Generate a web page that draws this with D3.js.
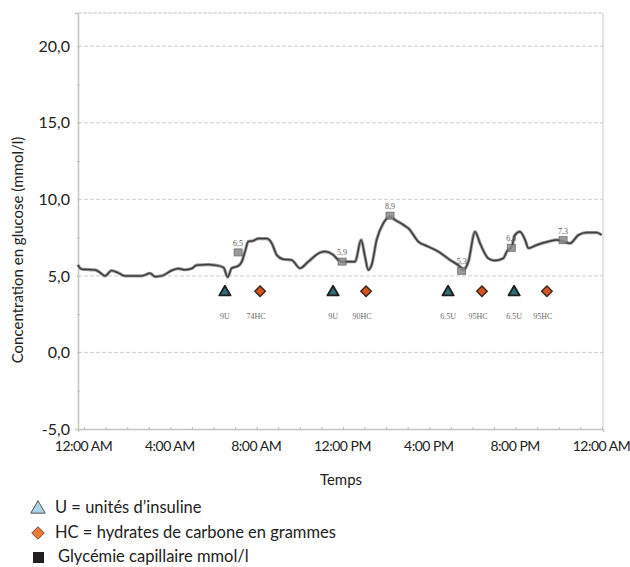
<!DOCTYPE html>
<html>
<head>
<meta charset="utf-8">
<script src="https://cdn.jsdelivr.net/npm/d3@7"></script>
<style>
  html, body { margin: 0; padding: 0; background: #fff; }
  svg { display: block; font-family: Lato, "Open Sans", sans-serif; }
</style>
</head>
<body>
<svg id="chart" width="630" height="567"></svg>
<script>
// Continuous glucose trace: hour of day and concentration (mmol/l)
const traceHours = [-0.29, -0.11, 0.51, 0.74, 0.97, 1.28, 1.58, 1.90, 2.67, 3.06, 3.29, 3.60, 4.06, 4.37, 4.68, 4.99, 5.22, 5.76,
  6.07, 6.46, 6.66, 6.84, 7.15, 7.31, 7.46, 7.61, 7.85, 8.08, 8.47, 8.70, 8.93, 9.24, 9.62, 10.01, 10.39, 10.94, 11.17, 11.55, 11.78,
  11.94, 12.56, 12.84, 13.02, 13.17, 13.33, 13.56, 13.87, 14.18, 14.41, 14.80, 15.03, 15.49, 15.95, 16.42, 16.96, 17.42, 17.58, 17.81,
  18.12, 18.35, 18.73, 19.04, 19.43, 19.59, 19.82, 19.97, 20.20, 20.44, 20.59, 20.98, 21.52, 21.90, 22.21, 22.52, 22.91, 23.29, 23.76, 23.99];
const traceValues = [5.72, 5.44, 5.39, 5.22, 5.00, 5.35, 5.20, 5.00, 5.00, 5.17, 4.95, 5.00, 5.35, 5.48, 5.40, 5.48, 5.70, 5.74,
  5.70, 5.56, 4.92, 5.50, 5.65, 5.93, 6.59, 7.24, 7.30, 7.44, 7.44, 7.13, 6.37, 6.09, 6.04, 5.50, 5.93, 6.52, 6.59, 6.37, 6.04,
  5.93, 5.93, 7.35, 6.26, 5.39, 5.72, 7.35, 8.44, 8.87, 8.66, 8.33, 8.11, 7.24, 6.91, 6.59, 6.04, 5.61, 5.39, 5.93,
  7.89, 7.13, 6.15, 6.00, 6.15, 6.59, 6.91, 7.67, 7.89, 7.35, 6.81, 7.02, 7.24, 7.35, 7.24, 7.13, 7.67, 7.83, 7.83, 7.67];

// Insulin doses and carbohydrate intakes
const insulinHours = [6.53, 11.54, 16.87, 19.93];
const insulinLabels = ["9U", "9U", "6.5U", "6.5U"];
const carbHours = [8.16, 13.07, 18.44, 21.45];
const carbLabels = ["74HC", "90HC", "95HC", "95HC"];

// Capillary glucose readings
const capHours = [7.14, 11.96, 14.18, 17.50, 19.80, 22.20];
const capValues = [6.5, 5.9, 8.9, 5.3, 6.8, 7.3];

// Axis ticks
const yTicks = [-5, 0, 5, 10, 15, 20];
const xTicks = [0, 4, 8, 12, 16, 20, 24];
const xTickLabels = ["12:00 AM", "4:00 AM", "8:00 AM", "12:00 PM", "4:00 PM", "8:00 PM", "12:00 AM"];

const svg = d3.select("#chart");
const plotL = 78, plotR = 603, plotT = 13, plotB = 429;

const x = d3.scaleLinear().domain([-0.28, 24.05]).range([plotL, plotR]);
const y = d3.scaleLinear().domain([-5, 22.17]).range([plotB, plotT]);

// Horizontal grid
svg.append("g")
  .selectAll("line")
  .data(yTicks.filter(d => d > -5))
  .join("line")
  .attr("x1", plotL).attr("x2", plotR)
  .attr("y1", d => y(d)).attr("y2", d => y(d))
  .attr("stroke", "#cfcfcf").attr("stroke-width", 1)
  .attr("stroke-dasharray", "4,2");

// Frame: top and right edges
svg.append("line").attr("x1", plotL).attr("x2", plotR).attr("y1", plotT).attr("y2", plotT)
  .attr("stroke", "#c8c8c8").attr("stroke-dasharray", "4,1");
svg.append("line").attr("x1", plotR).attr("x2", plotR).attr("y1", plotT).attr("y2", plotB)
  .attr("stroke", "#c8c8c8");

// Left axis
const yAxis = svg.append("g").attr("transform", `translate(${plotL},0)`)
  .call(d3.axisLeft(y).tickValues(d3.range(-5, 22.5, 2.5)).tickSize(3)
    .tickFormat(d => yTicks.includes(d) ? d3.format(".1f")(d).replace(".", ",").replace("−", "-") : ""));
yAxis.select(".domain").attr("stroke", "#c4c4c4").attr("stroke-width", 1.5);
yAxis.selectAll(".tick line").attr("stroke", "#c4c4c4").attr("x2", 2).attr("x1", -1);
yAxis.selectAll(".tick text")
  .attr("x", -8)
  .attr("fill", "#222")
  .style("font-size", "16px")
  .style("font-family", "Lato, sans-serif");

// Bottom axis
const xAxis = svg.append("g").attr("transform", `translate(0,${plotB})`)
  .call(d3.axisBottom(x).tickValues(d3.range(0, 25, 1)).tickSize(3)
    .tickFormat(d => xTicks.includes(d) ? xTickLabels[xTicks.indexOf(d)] : ""));
xAxis.select(".domain").attr("stroke", "#c4c4c4").attr("stroke-width", 1.5);
xAxis.selectAll(".tick line").attr("stroke", "#bdbdbd").attr("y1", -2).attr("y2", 1);
xAxis.selectAll(".tick text")
  .attr("y", 12)
  .attr("dx", -1)
  .attr("fill", "#222")
  .style("font-size", "14px")
  .style("letter-spacing", "-0.5px")
  .style("font-family", "Lato, sans-serif");

// Axis titles
svg.append("text")
  .attr("transform", `translate(23,${(plotT + plotB) / 2 + 29}) rotate(-90)`)
  .attr("text-anchor", "middle")
  .attr("fill", "#222")
  .style("font-size", "15px")
  .text("Concentration en glucose (mmol/l)");
svg.append("text")
  .attr("x", 341).attr("y", 485)
  .attr("text-anchor", "middle")
  .attr("fill", "#222")
  .style("font-size", "15px")
  .text("Temps");

// Glucose trace
const trace = traceHours.map((h, i) => [h, traceValues[i]]);
const line = d3.line().x(d => x(d[0])).y(d => y(d[1])).curve(d3.curveMonotoneX);
svg.append("path").datum(trace)
  .attr("d", line)
  .attr("fill", "none")
  .attr("stroke", "#9a9a9a").attr("stroke-width", 3.2)
  .attr("stroke-linejoin", "round");
svg.append("path").datum(trace)
  .attr("d", line)
  .attr("fill", "none")
  .attr("stroke", "#3e3e3e").attr("stroke-width", 1.5)
  .attr("stroke-linejoin", "round");

// Capillary readings: small square with value above
const cap = svg.append("g");
capHours.forEach((h, i) => {
  const cx = x(h), cy = y(capValues[i]);
  cap.append("rect")
    .attr("x", cx - 4).attr("y", cy - 4).attr("width", 8).attr("height", 7)
    .attr("fill", "#8a8a8a").attr("stroke", "#555").attr("stroke-width", 0.8).attr("opacity", 0.85);
  cap.append("text")
    .attr("x", cx).attr("y", cy - 7)
    .attr("text-anchor", "middle")
    .attr("fill", "#5a5a5a")
    .style("font-size", "8px")
    .style("font-family", "'Liberation Serif', serif")
    .text(d3.format(".1f")(capValues[i]).replace(".", ","));
});

// Event markers
const markerLevel = 4.0, labelLevel = 2.4;
const ev = svg.append("g");
insulinHours.forEach((h, i) => {
  const cx = x(h), cy = y(markerLevel);
  ev.append("path")
    .attr("d", d3.symbol(d3.symbolTriangle, 55)())
    .attr("transform", `translate(${cx},${cy + 1})`)
    .attr("fill", "#2f6f78").attr("stroke", "#1e1e1e").attr("stroke-width", 1.8)
    .attr("stroke-linejoin", "round");
  ev.append("text")
    .attr("x", cx).attr("y", y(labelLevel) + 3)
    .attr("text-anchor", "middle")
    .attr("fill", "#6a6a6a")
    .style("font-size", "8px")
    .style("font-family", "'Liberation Serif', serif")
    .text(insulinLabels[i]);
});
carbHours.forEach((h, i) => {
  const cx = x(h), cy = y(markerLevel);
  ev.append("path")
    .attr("d", d3.symbol(d3.symbolDiamond2, 70)())
    .attr("transform", `translate(${cx},${cy})`)
    .attr("fill", "#d9541f").attr("stroke", "#3a2a22").attr("stroke-width", 1.6)
    .attr("stroke-linejoin", "round");
  ev.append("text")
    .attr("x", cx - 4).attr("y", y(labelLevel) + 3)
    .attr("text-anchor", "middle")
    .attr("fill", "#6a6a6a")
    .style("font-size", "8px")
    .style("font-family", "'Liberation Serif', serif")
    .text(carbLabels[i]);
});

// Legend
const legend = svg.append("g");
const legendRows = [
  { sym: "tri", text: "U = unités d’insuline", y: 508 },
  { sym: "dia", text: "HC = hydrates de carbone en grammes", y: 533 },
  { sym: "sq", text: "Glycémie capillaire mmol/l", y: 557 }
];
legendRows.forEach(r => {
  if (r.sym === "tri") {
    legend.append("path").attr("d", d3.symbol(d3.symbolTriangle, 90)())
      .attr("transform", `translate(38,${r.y + 1})`)
      .attr("fill", "#a9d4ea").attr("stroke", "#555").attr("stroke-width", 1);
  } else if (r.sym === "dia") {
    legend.append("path").attr("d", d3.symbol(d3.symbolDiamond2, 100)())
      .attr("transform", `translate(38,${r.y})`)
      .attr("fill", "#f07a35").attr("stroke", "#6a4a3a").attr("stroke-width", 1);
  } else {
    legend.append("rect").attr("x", 33).attr("y", r.y - 5).attr("width", 11).attr("height", 11)
      .attr("fill", "#231f20");
  }
  legend.append("text")
    .attr("x", r.sym === "sq" ? 58 : 55).attr("y", r.y + 5)
    .attr("fill", "#222")
    .style("font-size", "16.5px")
    .text(r.text);
});
</script>
</body>
</html>
